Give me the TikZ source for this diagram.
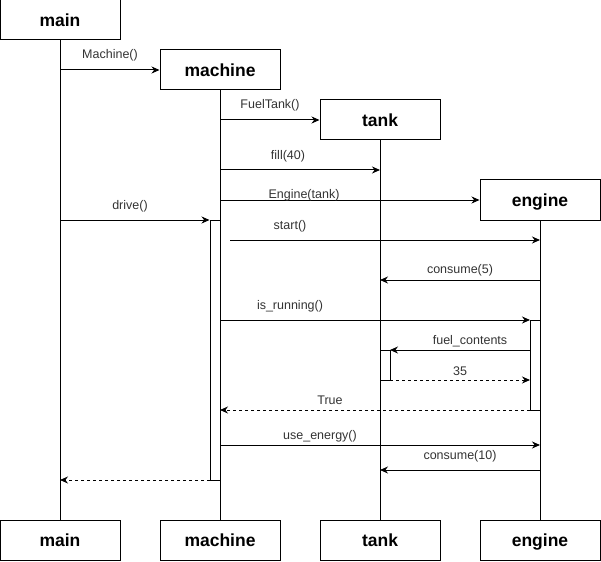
\documentclass[tikz,border=0pt]{standalone}
\usepackage{fontspec}
\setmainfont{Liberation Sans}
\usetikzlibrary{arrows.meta}
\begin{document}
\begin{tikzpicture}[x=1pt,y=-1pt,line width=1pt,
  obj/.style={draw,fill=white,minimum width=120pt,minimum height=40pt,inner sep=0pt,text height=13pt,text depth=0pt,font=\fontsize{17.5}{20}\selectfont\bfseries},
  act/.style={draw,fill=white,minimum width=10pt,inner sep=0pt},
  msg/.style={-{Stealth[length=8pt,width=7pt]}},
  ret/.style={msg,dash pattern=on 3pt off 3pt},
  lbl/.style={font=\fontsize{12.5}{14}\selectfont,text=black!80,inner sep=0pt}]
\useasboundingbox (0,0) rectangle (601,561);
% objects
\node[obj] (mainT) at (60,20) {main};
\node[obj] (machT) at (220,70) {machine};
\node[obj] (tankT) at (380,120) {tank};
\node[obj] (engT) at (540,200) {engine};
\node[obj] (mainB) at (60,540) {main};
\node[obj] (machB) at (220,540) {machine};
\node[obj] (tankB) at (380,540) {tank};
\node[obj] (engB) at (540,540) {engine};
% lifelines
\draw (mainT) -- (mainB);
\draw (machT) -- (machB);
\draw (tankT) -- (tankB);
\draw (engT) -- (engB);
% activations
\node[act,minimum height=260pt] (mact) at (215,350) {};
\node[act,minimum height=90pt] (eact) at (535,365) {};
\node[act,minimum height=30pt] (tact) at (385,365) {};
% endpoints
\coordinate (a1) at (60,70);
\coordinate (a2) at (220,120);
\coordinate (a3s) at (220,170); \coordinate (a3e) at (380,170);
\coordinate (a4) at (220,200);
\coordinate (a5) at (60,220);
\coordinate (a6s) at (230,240); \coordinate (a6e) at (540,240);
\coordinate (a7s) at (540,280); \coordinate (a7e) at (380,280);
\coordinate (a8s) at (220,320); \coordinate (a8e) at (530,320);
\coordinate (a9s) at (530,350); \coordinate (a9e) at (390,350);
\coordinate (a10s) at (390,380); \coordinate (a10e) at (530,380);
\coordinate (a11s) at (530,410); \coordinate (a11e) at (220,410);
\coordinate (a12s) at (220,445); \coordinate (a12e) at (540,445);
\coordinate (a13s) at (540,470); \coordinate (a13e) at (380,470);
\coordinate (a14s) at (210,480); \coordinate (a14e) at (60,480);
% messages
\draw[msg] (a1) -- (machT);
\draw[msg] (a2) -- (tankT);
\draw[msg] (a3s) -- (a3e);
\draw[msg] (a4) -- (engT);
\draw[msg] (a5) -- (mact.west |- a5);
\draw[msg] (a6s) -- (a6e);
\draw[msg] (a7s) -- (a7e);
\draw[msg] (a8s) -- (a8e);
\draw[msg] (a9s) -- (a9e);
\draw[ret] (a10s) -- (a10e);
\draw[ret] (a11s) -- (a11e);
\draw[msg] (a12s) -- (a12e);
\draw[msg] (a13s) -- (a13e);
\draw[ret] (a14s) -- (a14e);
% labels
\node[lbl] (l1) at (110,55) {Machine()};
\node[lbl] (l2) at (270,105) {FuelTank()};
\node[lbl] (l3) at (288,156) {fill(40)};
\node[lbl] (l4) at (304,195) {Engine(tank)};
\node[lbl] (l5) at (130,206) {drive()};
\node[lbl] (l6) at (290,226) {start()};
\node[lbl] (l7) at (460,270) {consume(5)};
\node[lbl] (l8) at (290,306) {is\_running()};
\node[lbl] (l9) at (470,341) {fuel\_contents};
\node[lbl] (l10) at (460,371) {35};
\node[lbl] (l11) at (330,400) {True};
\node[lbl] (l12) at (320,436) {use\_energy()};
\node[lbl] (l13) at (460,456) {consume(10)};
\end{tikzpicture}
\end{document}
